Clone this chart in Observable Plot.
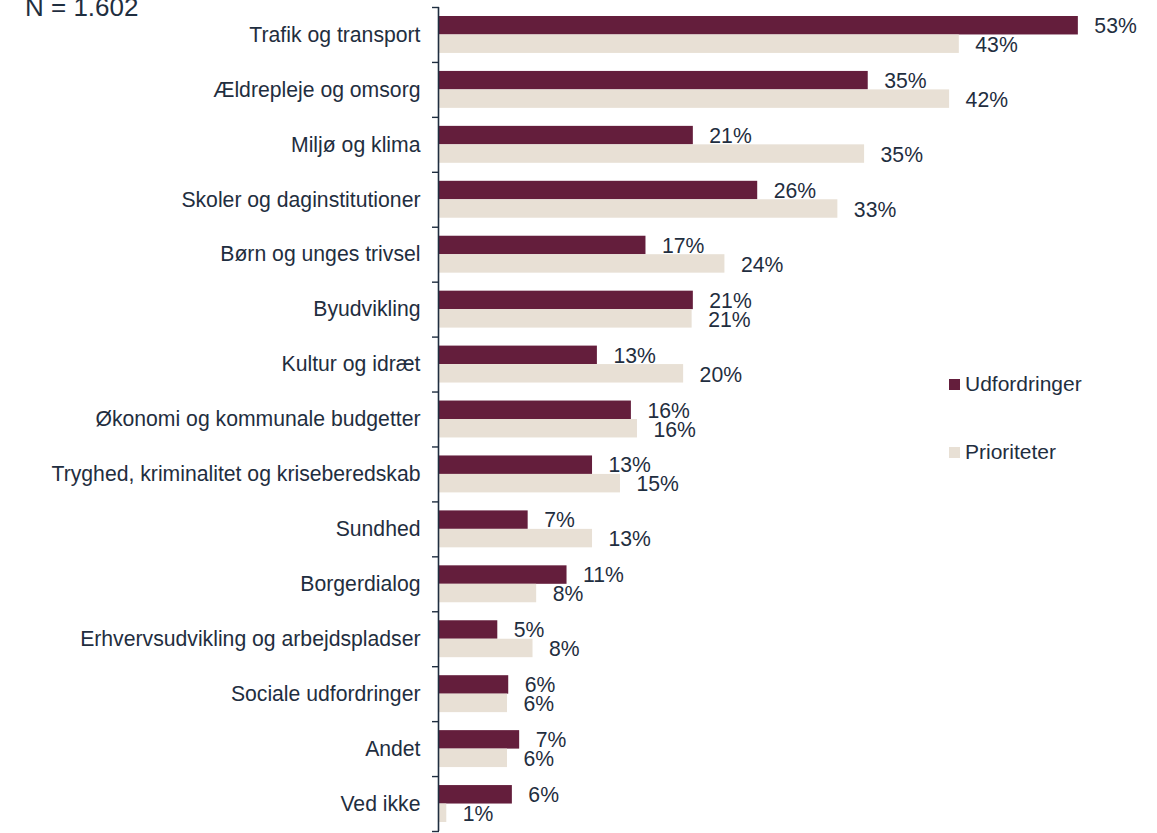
<!DOCTYPE html>
<html><head><meta charset="utf-8">
<script src="https://cdn.jsdelivr.net/npm/d3@7"></script>
<script src="https://cdn.jsdelivr.net/npm/@observablehq/plot@0.6"></script>
<style>
body{margin:0;background:#fff;}
#wrap{position:relative;width:1157px;height:833px;font-family:"Liberation Sans",Arial,sans-serif;color:#1f2e40;overflow:hidden;}
.abs{position:absolute;white-space:nowrap;}
.sq{position:absolute;width:11px;height:11px;}
</style></head><body><div id="wrap"></div>
<script>
const categories = [
  "Trafik og transport",
  "Ældrepleje og omsorg",
  "Miljø og klima",
  "Skoler og daginstitutioner",
  "Børn og unges trivsel",
  "Byudvikling",
  "Kultur og idræt",
  "Økonomi og kommunale budgetter",
  "Tryghed, kriminalitet og kriseberedskab",
  "Sundhed",
  "Borgerdialog",
  "Erhvervsudvikling og arbejdspladser",
  "Sociale udfordringer",
  "Andet",
  "Ved ikke"
];
const udfordringer = [52.6, 35.3, 20.9, 26.2, 17.0, 20.9, 13.0, 15.8, 12.6, 7.3, 10.5, 4.8, 5.7, 6.6, 6.0];
const prioriteter  = [42.8, 42.0, 35.0, 32.8, 23.5, 20.8, 20.1, 16.3, 14.9, 12.6, 8.0, 7.7, 5.6, 5.6, 0.6];
const seriesNames = ["Udfordringer", "Prioriteter"];
const seriesColors = ["#641e3c", "#e8e0d5"];
const sampleLabel = "N = 1.602";
const textColor = "#1f2e40";

const W = 1157, H = 833, mT = 7, mB = 2, mL = 439, mR = 50;
const xMax = 55;
const step = (H - mT - mB) / categories.length;
const pad = 9;
const barH = (step - 2 * pad) / 2;
const pxPerUnit = (W - mL - mR) / xMax;
const fmt = v => Math.round(v) + "%";
const fs = 21.2;

const udfRows = categories.map((c, i) => ({category: c, value: udfordringer[i]}));
const prioRows = categories.map((c, i) => ({category: c, value: prioriteter[i]}));

const chart = Plot.plot({
  width: W, height: H,
  marginTop: mT, marginBottom: mB, marginLeft: mL, marginRight: mR,
  x: {domain: [0, xMax], axis: null},
  y: {domain: categories, padding: 0, round: false, axis: null},
  style: {fontFamily: '"Liberation Sans", Arial, sans-serif', fontSize: fs + "px", color: textColor, background: "white", overflow: "visible"},
  marks: [
    Plot.barX(udfRows, {x: "value", y: "category", fill: seriesColors[0], insetTop: pad, insetBottom: step - pad - barH}),
    Plot.barX(prioRows, {x: "value", y: "category", fill: seriesColors[1], insetTop: pad + barH, insetBottom: pad}),
    Plot.text(udfRows, {x: "value", y: "category", text: d => fmt(d.value), textAnchor: "start", dx: 16, dy: -barH / 2 + 0.5, fontSize: fs, fill: textColor}),
    Plot.text(prioRows, {x: "value", y: "category", text: d => fmt(d.value), textAnchor: "start", dx: 16, dy: barH / 2 + 1, fontSize: fs, fill: textColor}),
    Plot.axisY({tickSize: 0, tickPadding: 19, fontSize: fs, fill: textColor, label: null}),
    Plot.ruleX([0], {stroke: textColor, strokeWidth: 1.6, dx: -1}),
    Plot.ruleY(categories, {y: d => d, x1: 0, x2: -7 / pxPerUnit, dy: -step / 2, stroke: textColor, strokeWidth: 1.4}),
    Plot.ruleY([categories[categories.length - 1]], {y: d => d, x1: 0, x2: -7 / pxPerUnit, dy: step / 2, stroke: textColor, strokeWidth: 1.4})
  ]
});

const wrap = document.getElementById("wrap");
wrap.appendChild(chart);

const n = document.createElement("div");
n.className = "abs";
n.style.cssText = "left:25px;top:-6px;font-size:26px;line-height:26px;";
n.textContent = sampleLabel;
wrap.appendChild(n);

const legendTops = [379, 447];
seriesNames.forEach((name, i) => {
  const sq = document.createElement("div");
  sq.className = "sq";
  sq.style.left = "949px";
  sq.style.top = legendTops[i] + "px";
  sq.style.background = seriesColors[i];
  wrap.appendChild(sq);
  const t = document.createElement("div");
  t.className = "abs";
  t.style.cssText = `left:965px;top:${legendTops[i] - 6}px;font-size:21px;line-height:21px;`;
  t.textContent = name;
  wrap.appendChild(t);
});
</script>
</body></html>
